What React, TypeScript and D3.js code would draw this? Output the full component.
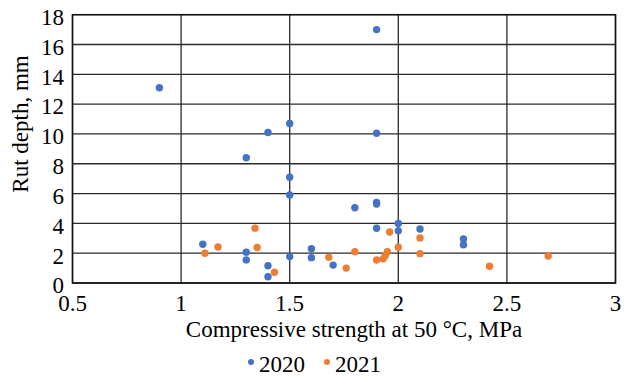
import React, { useEffect, useRef } from "react";
import * as d3 from "d3";

// 2020 series: compressive strength (MPa), rut depth (mm)
const x2020 = [0.9, 1.4, 1.5, 1.3, 1.5, 1.9, 1.9, 1.5, 1.1, 1.3, 1.3, 1.4, 1.4, 1.5, 1.6, 1.6, 1.7, 1.8, 1.9, 1.9, 1.9, 2.0, 2.0, 2.1, 2.3, 2.3];
const y2020 = [13.1, 10.1, 10.7, 8.4, 7.1, 17.0, 10.05, 5.9, 2.6, 2.06, 1.55, 1.16, 0.42, 1.77, 2.3, 1.7, 1.2, 5.05, 5.3, 5.4, 3.67, 4.0, 3.5, 3.62, 2.95, 2.57];

// 2021 series
const x2021 = [1.11, 1.17, 1.34, 1.35, 1.43, 1.68, 1.76, 1.8, 1.9, 1.93, 1.94, 1.95, 1.96, 2.0, 2.1, 2.1, 2.42, 2.69];
const y2021 = [2.0, 2.42, 3.68, 2.38, 0.72, 1.72, 1.0, 2.1, 1.54, 1.62, 1.82, 2.1, 3.42, 2.4, 3.02, 1.97, 1.12, 1.81];

const xTicks = [0.5, 1, 1.5, 2, 2.5, 3];
const yTicks = [0, 2, 4, 6, 8, 10, 12, 14, 16, 18];
const seriesNames = ["2020", "2021"];
const colors = ["#4472C4", "#ED7D31"];

const App: React.FC = () => {
  const ref = useRef<SVGSVGElement>(null);

  useEffect(() => {
    const svg = d3.select(ref.current);
    svg.selectAll("*").remove();

    const left = 72.5;
    const right = 615.5;
    const top = 14.7;
    const bottom = 283;
    const font = "Liberation Serif, Times New Roman, serif";
    const fs = 23;

    const x = d3.scaleLinear().domain([0.5, 3]).range([left, right]);
    const y = d3.scaleLinear().domain([0, 18]).range([bottom, top]);

    // grid
    svg
      .append("g")
      .selectAll("line")
      .data(yTicks)
      .join("line")
      .attr("x1", left)
      .attr("x2", right)
      .attr("y1", (d) => y(d))
      .attr("y2", (d) => y(d))
      .attr("stroke", "#2a2a2a")
      .attr("stroke-width", 1.3);
    svg
      .append("g")
      .selectAll("line")
      .data(xTicks)
      .join("line")
      .attr("x1", (d) => x(d))
      .attr("x2", (d) => x(d))
      .attr("y1", top)
      .attr("y2", bottom)
      .attr("stroke", "#2a2a2a")
      .attr("stroke-width", 1.3);

    svg
      .append("rect")
      .attr("x", left)
      .attr("y", top)
      .attr("width", right - left)
      .attr("height", bottom - top)
      .attr("fill", "none")
      .attr("stroke", "#111")
      .attr("stroke-width", 1.5);

    // tick labels
    svg
      .append("g")
      .selectAll("text")
      .data(xTicks)
      .join("text")
      .attr("x", (d) => x(d))
      .attr("y", 311)
      .attr("text-anchor", "middle")
      .attr("font-family", font)
      .attr("font-size", fs)
      .text((d) => String(d));
    svg
      .append("g")
      .selectAll("text")
      .data(yTicks)
      .join("text")
      .attr("x", 64)
      .attr("y", (d) => y(d))
      .attr("dy", "0.45em")
      .attr("text-anchor", "end")
      .attr("font-family", font)
      .attr("font-size", fs)
      .text((d) => String(d));

    // axis titles
    svg
      .append("text")
      .attr("x", 354)
      .attr("y", 337)
      .attr("text-anchor", "middle")
      .attr("font-family", font)
      .attr("font-size", fs)
      .text("Compressive strength at 50 °C, MPa");
    svg
      .append("text")
      .attr("transform", "translate(28,124) rotate(-90)")
      .attr("text-anchor", "middle")
      .attr("font-family", font)
      .attr("font-size", fs)
      .text("Rut depth, mm");

    // points
    const series = [
      x2020.map((v, i) => [v, y2020[i]]),
      x2021.map((v, i) => [v, y2021[i]]),
    ];
    series.forEach((pts, si) => {
      svg
        .append("g")
        .selectAll("circle")
        .data(pts)
        .join("circle")
        .attr("cx", (d) => x(d[0]))
        .attr("cy", (d) => y(d[1]))
        .attr("r", 3.7)
        .attr("fill", colors[si]);
    });

    // legend
    const legendX = [251, 327];
    seriesNames.forEach((name, i) => {
      svg
        .append("circle")
        .attr("cx", legendX[i])
        .attr("cy", 362)
        .attr("r", 3)
        .attr("fill", colors[i]);
      svg
        .append("text")
        .attr("x", legendX[i] + 8)
        .attr("y", 372)
        .attr("font-family", font)
        .attr("font-size", fs)
        .text(name);
    });
  }, []);

  return (
    <svg
      ref={ref}
      width={629}
      height={376}
      style={{ position: "absolute", left: 0, top: 0, background: "#fff" }}
    />
  );
};

export default App;
